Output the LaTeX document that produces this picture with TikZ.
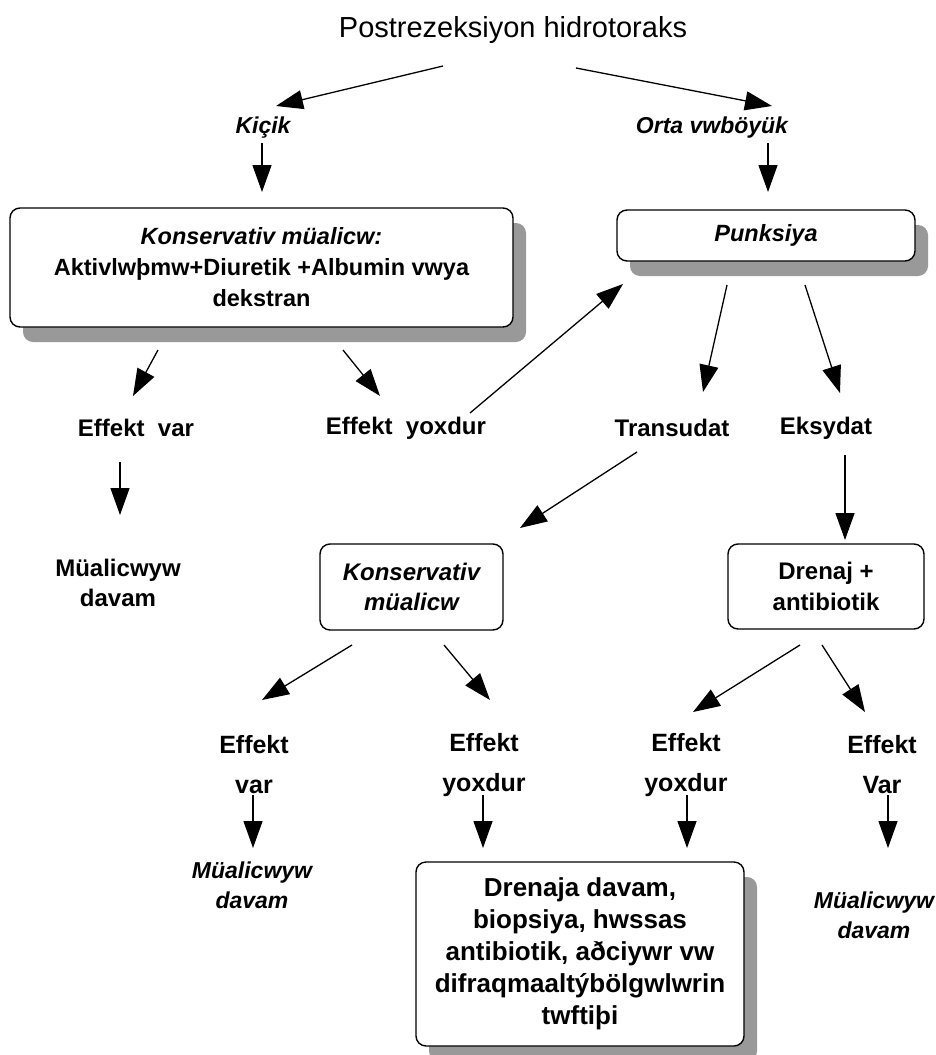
\documentclass[tikz,border=0pt]{standalone}
\usepackage{fontspec}
\setmainfont{Liberation Sans}
\usetikzlibrary{arrows.meta,shadows}
\definecolor{shadowgray}{HTML}{999999}
\tikzset{
  arr/.style={line width=1.3pt, -{Triangle[length=27pt,width=19pt]}},
  boxnode/.style={draw, line width=1.4pt, rounded corners=10pt, fill=white, align=center, inner sep=0pt},
  shad/.style={drop shadow={shadow xshift=13pt, shadow yshift=-15pt, fill=shadowgray, opacity=1}},
  lab/.style={font=\bfseries\fontsize{24}{30}\selectfont, align=center, inner sep=0pt},
  labit/.style={font=\bfseries\itshape\fontsize{23}{30}\selectfont, align=center, inner sep=0pt},
  lowlab/.style={font=\bfseries\fontsize{25}{40}\selectfont, align=center, inner sep=0pt},
}
\begin{document}
\begin{tikzpicture}[x=1pt,y=-1pt]
\useasboundingbox (0,0) rectangle (935,1055);
% texts
\node[inner sep=0pt, font=\fontsize{29}{32}\selectfont] (t) at (513,30) {Postrezeksiyon hidrotoraks};
\node[labit] (k) at (263,128) {Kiçik};
\node[labit] (o) at (712,128) {Orta vwböyük};
\node[boxnode, shad, minimum width=503pt, minimum height=119pt,
      font=\bfseries\fontsize{23.5}{31}\selectfont] (B) at (261.5,267.5)
  {\textit{Konservativ müalicw:}\\Aktivlwþmw+Diuretik +Albumin vwya\\dekstran};
\node[boxnode, shad, minimum width=298pt, minimum height=51pt,
      font=\bfseries\itshape\fontsize{23.5}{30}\selectfont] (P) at (766,235.5) {Punksiya};
\node[lab] (ev) at (136,428) {Effekt~~var};
\node[lab] (ey) at (406,428) {Effekt~~yoxdur};
\node[lab] (tr) at (672,428) {Transudat};
\node[lab] (ek) at (826,428) {Eksydat};
\node[lab] (m1) at (118,583) {Müalicwyw\\davam};
\node[boxnode, minimum width=183pt, minimum height=86pt,
      font=\bfseries\itshape\fontsize{24}{30}\selectfont] (K2) at (411.5,587) {Konservativ\\müalicw};
\node[boxnode, minimum width=196pt, minimum height=85pt,
      font=\bfseries\fontsize{24}{31}\selectfont] (D) at (826,586.5) {Drenaj +\\antibiotik};
\node[lowlab] (b1) at (254,765) {Effekt\\var};
\node[lowlab] (b2) at (484,765) {Effekt\\yoxdur};
\node[lowlab] (b3) at (686,765) {Effekt\\yoxdur};
\node[lowlab] (b4) at (882,765) {Effekt\\Var};
\node[labit] (m2) at (252,885) {Müalicwyw\\davam};
\node[labit] (m3) at (874,915) {Müalicwyw\\davam};
\node[boxnode, shad, minimum width=328pt, minimum height=184pt,
      font=\bfseries\fontsize{26}{32}\selectfont] (E) at (580,954)
  {Drenaja davam,\\biopsiya, hwssas\\antibiotik, aðciywr vw\\difraqmaaltýbölgwlwrin\\twftiþi};
% arrow end points
\coordinate (a1s) at (443,66);  \coordinate (a1e) at (276,106);
\coordinate (a2s) at (576,68);  \coordinate (a2e) at (772,106);
\coordinate (a3s) at (262,143); \coordinate (a3e) at (262,192);
\coordinate (a4s) at (768,143); \coordinate (a4e) at (768,192);
\coordinate (a5s) at (158,350); \coordinate (a5e) at (133,396);
\coordinate (a6s) at (343,350); \coordinate (a6e) at (380,396);
\coordinate (a7s) at (470,413); \coordinate (a7e) at (623,284);
\coordinate (a8s) at (727,285); \coordinate (a8e) at (703,392);
\coordinate (a9s) at (805,285); \coordinate (a9e) at (840,393);
\coordinate (a10s) at (120,462); \coordinate (a10e) at (120,515);
\coordinate (a11s) at (637,452); \coordinate (a11e) at (520,528);
\coordinate (a12s) at (845,455); \coordinate (a12e) at (845,540);
\coordinate (a13s) at (352,645); \coordinate (a13e) at (262,700);
\coordinate (a14s) at (444,645); \coordinate (a14e) at (490,700);
\coordinate (a15s) at (800,645); \coordinate (a15e) at (693,712);
\coordinate (a16s) at (822,645); \coordinate (a16e) at (865,712);
\coordinate (a17s) at (253,795); \coordinate (a17e) at (253,848);
\coordinate (a18s) at (483,795); \coordinate (a18e) at (483,848);
\coordinate (a19s) at (687,795); \coordinate (a19e) at (687,848);
\coordinate (a20s) at (888,795); \coordinate (a20e) at (888,848);
\foreach \i in {1,...,20} { \draw[arr] (a\i s) -- (a\i e); }
\end{tikzpicture}
\end{document}
